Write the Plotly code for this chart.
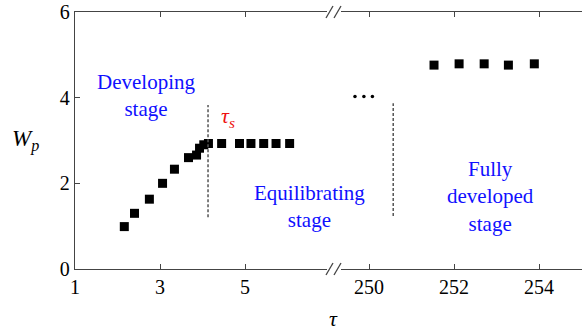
import plotly.graph_objects as go

# Wall parameter W_p against time tau, plotted on a broken tau axis
tau_early = [2.16, 2.40, 2.75, 3.06, 3.34, 3.67, 3.86, 3.93, 4.03, 4.14,
             4.45, 4.87, 5.14, 5.44, 5.73, 6.05]
wp_early = [0.99, 1.30, 1.63, 2.00, 2.33, 2.60, 2.66, 2.82, 2.90, 2.93,
            2.93, 2.93, 2.93, 2.93, 2.93, 2.93]

tau_late = [251.53, 252.12, 252.71, 253.28, 253.89]
wp_late = [4.76, 4.79, 4.79, 4.76, 4.79]

# stage boundaries
tau_s = 4.13
tau_full = 250.57

# ellipsis between the two axis segments
ellipsis_tau = [249.67, 249.88, 250.08]
ellipsis_wp = [4.03, 4.03, 4.03]

x_ticks_left = [1, 3, 5]
x_ticks_right = [250, 252, 254]
y_ticks = [0, 2, 4, 6]

W, H = 582, 333
ML, MR, MT, MB = 75, 0, 12, 64
PW = W - ML - MR
PH = H - MT - MB

def px(x):
    return (x - ML) / PW

def py(y):
    return (H - MB - y) / PH

FONT = "Liberation Serif, DejaVu Serif, serif"
AX = "#444444"
BLUE = "#1010ff"
RED = "#ee1111"

fig = go.Figure()

marker = dict(symbol="square", size=9, color="black")
fig.add_trace(go.Scatter(x=tau_early, y=wp_early, mode="markers", marker=marker,
                         xaxis="x", yaxis="y", showlegend=False))
fig.add_trace(go.Scatter(x=tau_late, y=wp_late, mode="markers", marker=marker,
                         xaxis="x2", yaxis="y", showlegend=False))
fig.add_trace(go.Scatter(x=ellipsis_tau, y=ellipsis_wp, mode="markers",
                         marker=dict(symbol="circle", size=3.5, color="black"),
                         xaxis="x2", yaxis="y", showlegend=False))

# dashed stage boundaries
dash = dict(color="#555555", width=1.5, dash="3px,2px")
fig.add_shape(type="line", xref="x", yref="y", x0=tau_s, x1=tau_s, y0=1.21, y1=3.83, line=dash)
fig.add_shape(type="line", xref="x2", yref="y", x0=tau_full, x1=tau_full, y0=1.24, y1=3.87, line=dash)

# break marks on the top and bottom of the frame
for ybase in (0, 1):
    for x0 in (326, 334):
        fig.add_shape(type="line", xref="paper", yref="paper",
                      x0=px(x0), x1=px(x0 + 7),
                      y0=ybase - 6 / PH, y1=ybase + 6 / PH,
                      line=dict(color=AX, width=1.3))

axis_common = dict(showline=True, linecolor=AX, linewidth=1.3,
                   ticks="inside", ticklen=5, tickcolor=AX, tickwidth=1.3,
                   showgrid=False, zeroline=False,
                   tickfont=dict(family=FONT, size=20, color="black"))

left_end = 1 + (327 - ML) / 42.5
right_start = 250 - (369 - 341) / 42.5
right_end = 254 + (W - 539) / 42.5

fig.update_layout(
    width=W, height=H,
    margin=dict(l=ML, r=MR, t=MT, b=MB),
    plot_bgcolor="white", paper_bgcolor="white",
    font=dict(family=FONT),
    xaxis=dict(domain=[0, px(327)], range=[1, left_end], tickvals=x_ticks_left,
               anchor="y", mirror="ticks", **axis_common),
    xaxis2=dict(domain=[px(341), 1], range=[right_start, right_end],
                tickvals=x_ticks_right, anchor="y", mirror="ticks", **axis_common),
    yaxis=dict(range=[0, 6], tickvals=y_ticks, anchor="x", mirror=False, **axis_common),
)

def note(text, x, y, xref, yref, size=21, color=BLUE):
    fig.add_annotation(text=text, x=x, y=y, xref=xref, yref=yref, showarrow=False,
                       xanchor="center", yanchor="middle",
                       font=dict(family=FONT, size=size, color=color))

note("Developing<br>stage", 2.68, 4.05, "x", "y")
note("Equilibrating<br>stage", 6.51, 1.46, "x", "y")
note("Fully<br>developed<br>stage", 252.85, 1.70, "x2", "y")
note("<i>τ<sub>s</sub></i>", 4.6, 3.55, "x", "y", size=22, color=RED)
note("<i>W<sub>p</sub></i>", px(25), py(140), "paper", "paper", size=23, color="black")
note("<i>τ</i>", px(333), py(318), "paper", "paper", size=22, color="black")

fig.write_html("out.html")
